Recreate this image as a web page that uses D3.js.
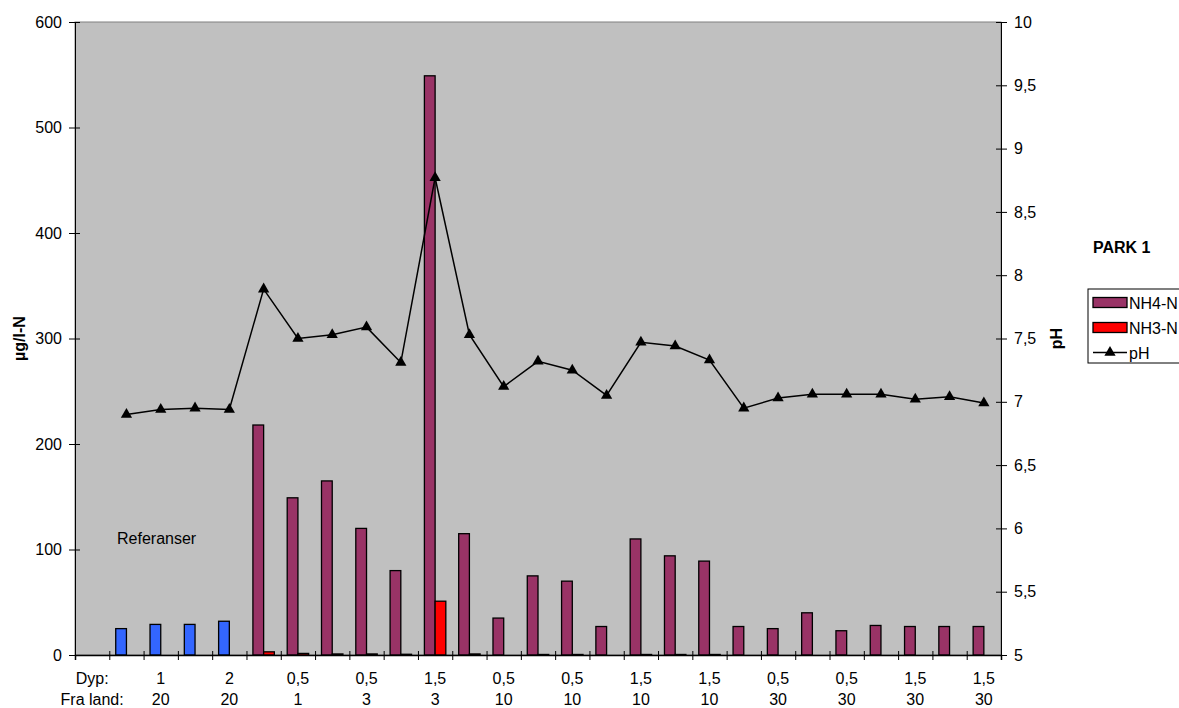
<!DOCTYPE html>
<html>
<head>
<meta charset="utf-8">
<script src="https://cdn.jsdelivr.net/npm/d3@7"></script>
<style>
  body { margin: 0; background: #fff; }
  text { font-family: "Liberation Sans", Arial, sans-serif; fill: #000; }
</style>
</head>
<body>
<div id="chart"></div>
<script>
// data (first category holds the row captions only)
const dypLabels = ["Dyp:", "", "1", "", "2", "", "0,5", "", "0,5", "", "1,5", "", "0,5", "", "0,5",
                   "", "1,5", "", "1,5", "", "0,5", "", "0,5", "", "1,5", "", "1,5"];
const fraLandLabels = ["Fra land:", "", "20", "", "20", "", "1", "", "3", "", "3", "", "10", "", "10",
                       "", "10", "", "10", "", "30", "", "30", "", "30", "", "30"];
const nh4Values = [null, 25, 29, 29, 32, 218, 149, 165, 120, 80, 549, 115, 35, 75, 70, 27,
                   110, 94, 89, 27, 25, 40, 23, 28, 27, 27, 27];
const nh3Values = [null, 0, 0, 0, 0, 3, 1.5, 1, 1, 0.7, 51, 1, 0, 0.5, 0.5, 0,
                   0.5, 0.5, 0.5, 0, 0, 0, 0, 0, 0, 0, 0];
const phValues = [null, 6.90, 6.94, 6.95, 6.94, 7.89, 7.50, 7.53, 7.59, 7.31, 8.77, 7.53, 7.12,
                  7.32, 7.25, 7.05, 7.47, 7.44, 7.33, 6.95, 7.03, 7.06, 7.06, 7.06, 7.02, 7.04, 6.99];
const referenceCount = 4; // first four samples are references (blue)
const leftTicks = [0, 100, 200, 300, 400, 500, 600];
const rightTicks = [5, 5.5, 6, 6.5, 7, 7.5, 8, 8.5, 9, 9.5, 10];

// layout
const WIDTH = 1179, HEIGHT = 708;
const PLOT = {left: 75, right: 1001, top: 22, bottom: 655};
const FONT = "16px";
const MARKER = 55;
const COLORS = {bg: "#C0C0C0", nh4: "#993366", nh3: "#FF0000", ref: "#3366FF"};

const idx = d3.range(dypLabels.length);

const x0 = d3.scaleBand().domain(idx).range([PLOT.left, PLOT.right]).padding(0);
const x1 = d3.scaleBand().domain(["nh4", "nh3"]).range([0, x0.bandwidth()])
             .paddingInner(0).paddingOuter(0.6);
const xEdge = d3.scaleLinear().domain([0, idx.length]).range([PLOT.left, PLOT.right]);
const yLeft = d3.scaleLinear().domain([0, 600]).range([PLOT.bottom, PLOT.top]);
const yRight = d3.scaleLinear().domain([5, 10]).range([PLOT.bottom, PLOT.top]);

const svg = d3.select("#chart").append("svg")
    .attr("width", WIDTH).attr("height", HEIGHT);

// plot area
svg.append("rect")
    .attr("x", PLOT.left).attr("y", PLOT.top)
    .attr("width", PLOT.right - PLOT.left).attr("height", PLOT.bottom - PLOT.top)
    .attr("fill", COLORS.bg).attr("stroke", "#808080").attr("stroke-width", 1);

// bars
const groups = svg.append("g").selectAll("g")
    .data(idx.filter(i => nh4Values[i] !== null))
    .join("g")
      .attr("transform", i => "translate(" + x0(i) + ",0)");

groups.append("rect")
    .attr("x", x1("nh4"))
    .attr("y", i => yLeft(nh4Values[i]))
    .attr("width", x1.bandwidth())
    .attr("height", i => yLeft(0) - yLeft(nh4Values[i]))
    .attr("fill", i => i <= referenceCount ? COLORS.ref : COLORS.nh4)
    .attr("stroke", "#000").attr("stroke-width", 1.3);

groups.filter(i => nh3Values[i] > 0).append("rect")
    .attr("x", x1("nh3"))
    .attr("y", i => yLeft(nh3Values[i]))
    .attr("width", x1.bandwidth())
    .attr("height", i => yLeft(0) - yLeft(nh3Values[i]))
    .attr("fill", COLORS.nh3)
    .attr("stroke", "#000").attr("stroke-width", 1.3);

// pH line
const phIdx = idx.filter(i => phValues[i] !== null);
const cx = i => x0(i) + x0.bandwidth() / 2;

svg.append("path")
    .datum(phIdx)
    .attr("d", d3.line().x(cx).y(i => yRight(phValues[i])))
    .attr("fill", "none").attr("stroke", "#000").attr("stroke-width", 1.5);

svg.append("g").selectAll("path")
    .data(phIdx)
    .join("path")
      .attr("transform", i => "translate(" + cx(i) + "," + yRight(phValues[i]) + ")")
      .attr("d", d3.symbol(d3.symbolTriangle).size(MARKER))
      .attr("fill", "#000");

// left axis
const leftAxis = svg.append("g")
    .attr("transform", "translate(" + PLOT.left + ",0)")
    .call(d3.axisLeft(yLeft).tickValues(leftTicks).tickSize(6).tickPadding(7));
leftAxis.selectAll(".tick line").attr("x2", -6).attr("x1", 5);
leftAxis.selectAll("text").attr("font-size", FONT).attr("font-family", "Liberation Sans, Arial");
leftAxis.select(".domain").attr("stroke", "#000");

// right axis
const fmtComma = d => String(d).replace(".", ",");
const rightAxis = svg.append("g")
    .attr("transform", "translate(" + PLOT.right + ",0)")
    .call(d3.axisRight(yRight).tickValues(rightTicks).tickFormat(fmtComma).tickSize(6).tickPadding(7));
rightAxis.selectAll(".tick line").attr("x1", -5);
rightAxis.selectAll("text").attr("font-size", FONT).attr("font-family", "Liberation Sans, Arial");
rightAxis.select(".domain").attr("stroke", "#000");

// bottom axis: ticks at category edges, two label rows
const bottomAxis = svg.append("g")
    .attr("transform", "translate(0," + PLOT.bottom + ")")
    .call(d3.axisBottom(xEdge).tickValues(d3.range(idx.length + 1))
          .tickFormat("").tickSizeOuter(0).tickSize(5));
bottomAxis.selectAll(".tick line").attr("y1", -4);
bottomAxis.select(".domain").attr("stroke", "#000").attr("stroke-width", 1.5);

svg.append("g").selectAll("text")
    .data(idx)
    .join("text")
      .attr("x", cx).attr("y", 684)
      .attr("text-anchor", "middle").attr("font-size", FONT)
      .text(i => dypLabels[i]);

svg.append("g").selectAll("text")
    .data(idx)
    .join("text")
      .attr("x", cx).attr("y", 705)
      .attr("text-anchor", "middle").attr("font-size", FONT)
      .text(i => fraLandLabels[i]);

// axis titles
svg.append("text")
    .attr("transform", "translate(25," + (PLOT.top + PLOT.bottom) / 2 + ") rotate(-90)")
    .attr("text-anchor", "middle").attr("font-size", FONT).attr("font-weight", "bold")
    .text("µg/l-N");

svg.append("text")
    .attr("transform", "translate(1062," + (PLOT.top + PLOT.bottom) / 2 + ") rotate(-90)")
    .attr("text-anchor", "middle").attr("font-size", FONT).attr("font-weight", "bold")
    .text("pH");

// annotations
svg.append("text")
    .attr("x", 117).attr("y", 544)
    .attr("font-size", FONT)
    .text("Referanser");

svg.append("text")
    .attr("x", 1093).attr("y", 253)
    .attr("font-size", FONT).attr("font-weight", "bold")
    .text("PARK 1");

// legend
const legend = svg.append("g");
legend.append("rect")
    .attr("x", 1088).attr("y", 289).attr("width", 100).attr("height", 74)
    .attr("fill", "#fff").attr("stroke", "#000");

const legendItems = [
  {label: "NH4-N", color: COLORS.nh4, type: "bar"},
  {label: "NH3-N", color: COLORS.nh3, type: "bar"},
  {label: "pH", color: "#000", type: "line"}
];
legendItems.forEach((d, k) => {
  const cy = 302.5 + k * 25;
  if (d.type === "bar") {
    legend.append("rect")
        .attr("x", 1093).attr("y", cy - 5).attr("width", 34).attr("height", 10)
        .attr("fill", d.color).attr("stroke", "#000").attr("stroke-width", 1.3);
  } else {
    legend.append("line")
        .attr("x1", 1093).attr("x2", 1127).attr("y1", cy).attr("y2", cy)
        .attr("stroke", "#000").attr("stroke-width", 1.5);
    legend.append("path")
        .attr("transform", "translate(1110," + cy + ")")
        .attr("d", d3.symbol(d3.symbolTriangle).size(MARKER))
        .attr("fill", "#000");
  }
  legend.append("text")
      .attr("x", 1129).attr("y", cy + 6)
      .attr("font-size", FONT)
      .text(d.label);
});
</script>
</body>
</html>
